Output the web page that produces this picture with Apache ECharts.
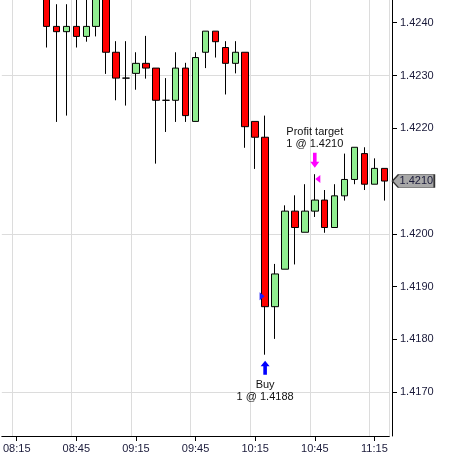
<!DOCTYPE html>
<html>
<head>
<meta charset="utf-8">
<script src="https://cdn.jsdelivr.net/npm/echarts@6/dist/echarts.min.js"></script>
<style>
  html, body { margin: 0; padding: 0; background: #ffffff; }
  #chart { width: 453px; height: 462px; }
</style>
</head>
<body>
<div id="chart"></div>
<script>
// 5-minute bars
const times = ['08:10','08:15','08:20','08:25','08:30','08:35','08:40','08:45','08:50','08:55',
  '09:00','09:05','09:10','09:15','09:20','09:25','09:30','09:35','09:40','09:45','09:50','09:55',
  '10:00','10:05','10:10','10:15','10:20','10:25','10:30','10:35','10:40','10:45','10:50','10:55',
  '11:00','11:05','11:10','11:15','11:20'];
const opens = [null,null,null,null, 1.42480,1.42393,1.42383,1.42393,1.42374,1.42393,
  1.42480,1.42344,1.42295,1.42304,1.42323,1.42314,1.42253,1.42253,1.42314,1.42213,1.42344,1.42384,
  1.42353,1.42323,1.42344,1.42213,1.42183,1.41862,1.41933,1.42043,1.42003,1.42043,1.42064,1.42012,
  1.42072,1.42103,1.42152,1.42094,1.42124];
const closes = [null,null,null,null, 1.42393,1.42383,1.42393,1.42374,1.42393,1.42470,
  1.42344,1.42295,1.42295,1.42323,1.42314,1.42253,1.42253,1.42314,1.42224,1.42334,1.42384,1.42364,
  1.42323,1.42344,1.42203,1.42183,1.41862,1.41924,1.42043,1.42012,1.42043,1.42064,1.42012,1.42072,
  1.42103,1.42164,1.42094,1.42124,1.42100];
const lows = [null,null,null,null, 1.42353,1.42212,1.42224,1.42353,1.42364,1.42374,
  1.42303,1.42253,1.42243,1.42273,1.42294,1.42133,1.42193,1.42212,1.42212,1.42213,1.42314,1.42334,
  1.42264,1.42304,1.42163,1.42123,1.41771,1.41801,1.41933,1.41942,1.42003,1.42032,1.42002,1.42012,
  1.42063,1.42094,1.42083,1.42094,1.42063];
const highs = [null,null,null,null, 1.42500,1.42435,1.42435,1.42460,1.42460,1.42490,
  1.42500,1.42365,1.42365,1.42344,1.42375,1.42314,1.42295,1.42344,1.42324,1.42344,1.42384,1.42384,
  1.42365,1.42365,1.42344,1.42213,1.42224,1.41943,1.42054,1.42073,1.42094,1.42113,1.42083,1.42094,
  1.42152,1.42164,1.42164,1.42143,1.42124];

// horizontal grid lines: every 30 pips from 1.4170 (1.4170, 1.4200, 1.4230)
const gridBase = 1.4170;
const gridStepPips = 3;   // in units of 0.001

// orders
const buyOrder = { time: '10:20', price: 1.4188, qty: 1, label: 'Buy' };
const targetOrder = { time: '10:45', price: 1.4210, qty: 1, label: 'Profit target' };

const yMin = 1.41617, yMax = 1.42443;

const candleData = opens.map((o, i) => o == null ? ['-', '-', '-', '-'] : [o, closes[i], lows[i], highs[i]]);
const idxOf = t => times.indexOf(t);
const lastIdx = times.length - 1;
const lastClose = closes[lastIdx];

const showQuarter = (index, value) => /:(15|45)$/.test(value);
const font = 'Arial, "Liberation Sans", sans-serif';
const gridColor = '#dcdcdc';

const chart = echarts.init(document.getElementById('chart'), null, { renderer: 'canvas' });
chart.setOption({
  backgroundColor: '#ffffff',
  animation: false,
  grid: { left: -0.7, top: 0, width: 390, height: 436, containLabel: false },
  xAxis: {
    type: 'category',
    data: times,
    boundaryGap: true,
    axisLine: { onZero: false, lineStyle: { color: '#000', width: 1 } },
    axisTick: { show: true, alignWithLabel: true, interval: showQuarter, length: 5, lineStyle: { color: '#000' } },
    axisLabel: { interval: showQuarter, margin: 7, color: '#1a1a3a', fontSize: 11, fontFamily: font },
    splitLine: { show: true, interval: showQuarter, lineStyle: { color: gridColor, width: 1 } }
  },
  yAxis: [{
    type: 'value',
    position: 'right',
    offset: 2.7,
    min: yMin,
    max: yMax,
    splitNumber: 8,
    scale: true,
    z: 3,
    axisLine: { show: true, onZero: false, lineStyle: { color: '#000', width: 1 } },
    axisTick: { show: true, length: 5, inside: false, lineStyle: { color: '#000' } },
    axisLabel: { margin: 8, color: '#1a1a3a', fontSize: 11, fontFamily: font,
      showMinLabel: false, showMaxLabel: false,
      formatter: v => v.toFixed(4) },
    splitLine: { show: false }
  }, {
    // hidden helper axis only for the horizontal grid lines (offset from gridBase, in 0.001 units)
    type: 'value',
    position: 'right',
    min: (yMin - gridBase) * 1000,
    max: (yMax - gridBase) * 1000,
    splitNumber: gridStepPips,
    scale: true,
    axisLine: { show: false, onZero: false },
    axisTick: { show: false },
    axisLabel: { show: false },
    splitLine: { show: true, showMinLine: false, showMaxLine: false,
      lineStyle: { color: gridColor, width: 1 } }
  }],
  series: [{
    type: 'candlestick',
    yAxisIndex: 0,
    data: candleData,
    barWidth: 7,
    z: 3,
    itemStyle: {
      color: '#90ee90', color0: '#ff0000',
      borderColor: '#000', borderColor0: '#000', borderWidth: 1
    },
    markPoint: {
      animation: false,
      silent: true,
      label: { show: false },
      data: [
        { // buy arrow under the bar
          coord: [buyOrder.time, lows[idxOf(buyOrder.time)]],
          symbol: 'path://M5,0 L10,6 L7,6 L7,15 L3,15 L3,6 L0,6 Z',
          symbolSize: [9, 14], symbolOffset: [0, 13],
          itemStyle: { color: '#0000ff' },
          label: { show: true, position: 'bottom', distance: 4,
            formatter: buyOrder.label + '\n' + buyOrder.qty + ' @ ' + buyOrder.price.toFixed(4),
            color: '#111', fontSize: 11, lineHeight: 12, fontFamily: font, align: 'center' }
        },
        { // buy fill marker
          coord: [buyOrder.time, buyOrder.price],
          symbol: 'path://M0,0 L5,4 L0,8 Z',
          symbolSize: [5, 8], symbolOffset: [-3, -1],
          itemStyle: { color: '#1a1aff' }
        },
        { // target arrow above the bar
          coord: [targetOrder.time, highs[idxOf(targetOrder.time)]],
          symbol: 'path://M3,0 L7,0 L7,9 L10,9 L5,15 L0,9 L3,9 Z',
          symbolSize: [9, 15], symbolOffset: [0, -14],
          itemStyle: { color: '#ff00ff' },
          label: { show: true, position: 'top', distance: 3,
            formatter: targetOrder.label + '\n' + targetOrder.qty + ' @ ' + targetOrder.price.toFixed(4),
            color: '#111', fontSize: 11, lineHeight: 12, fontFamily: font, align: 'center' }
        },
        { // target order marker
          coord: [targetOrder.time, targetOrder.price],
          symbol: 'path://M5,0 L0,4 L5,8 Z',
          symbolSize: [5, 8], symbolOffset: [3, -2],
          itemStyle: { color: '#ff00ff' }
        },
        { // last price tag
          coord: [times[lastIdx], lastClose],
          symbol: 'path://M0,6.5 L6,0 L42,0 L42,13 L6,13 Z',
          symbolSize: [42, 13], symbolOffset: [29, 0],
          itemStyle: { color: '#a8a8a8', borderColor: '#333', borderWidth: 1 },
          label: { show: true, position: 'inside', offset: [3, 0],
            formatter: lastClose.toFixed(4), color: '#1a1a3a', fontSize: 11, fontFamily: font }
        }
      ]
    }
  }]
});
</script>
</body>
</html>
